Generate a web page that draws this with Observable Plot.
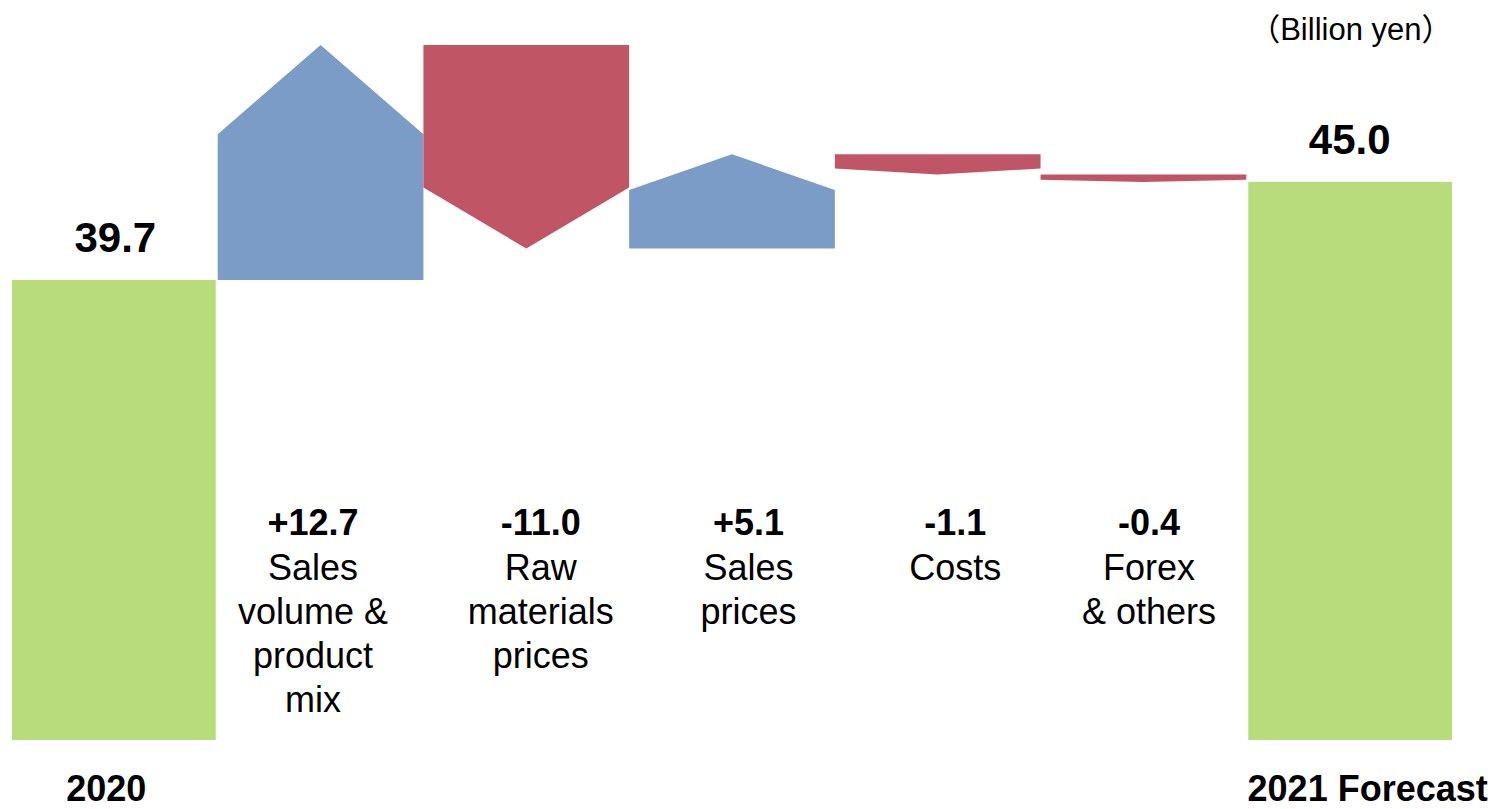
<!DOCTYPE html>
<html>
<head>
<meta charset="utf-8">
<script src="https://cdn.jsdelivr.net/npm/d3@7"></script>
<script src="https://cdn.jsdelivr.net/npm/@observablehq/plot@0.6"></script>
<style>
  html, body { margin: 0; padding: 0; background: #fff; }
  #chart svg { display: block; }
</style>
</head>
<body>
<div id="chart"></div>
<script>
// ---- Data ----
const categories = ["2020", "Sales\nvolume &\nproduct\nmix", "Raw\nmaterials\nprices", "Sales\nprices", "Costs", "Forex\n& others", "2021 Forecast"];
const startValue = 39.7;
const changes = [12.7, -11.0, 5.1, -1.1, -0.4];
const endValue = 45.0;
const valueLabels = ["39.7", "+12.7", "-11.0", "+5.1", "-1.1", "-0.4", "45.0"];
const unitLabel = "（Billion yen）";

// ---- Layout / style constants ----
const FONT = "'Liberation Sans', Arial, 'Noto Sans CJK JP', sans-serif";
const GREEN = "#b8dc7c", BLUE = "#7c9cc8", RED = "#c05566";
const labelDx = [-9, -8, 14, 16, 17, 5, 18];

// ---- Derived tables ----
const totals = [{k: 0, value: startValue, label: valueLabels[0]}, {k: 6, value: endValue, label: valueLabels[6]}];
const arrows = [];
let run = startValue;
changes.forEach((d, i) => {
  const k = i + 1;
  const s = run, e = run + d;
  const head = Math.abs(d) * (d > 0 ? 0.38 : 0.3);
  const shoulder = e - Math.sign(d) * head;
  const kind = d > 0 ? "up" : "down";
  arrows.push({k, x: k, y1: s, y2: shoulder, kind});
  arrows.push({k, x: k + 0.5, y1: s, y2: e, kind});
  arrows.push({k, x: k + 1, y1: s, y2: shoulder, kind});
  run = e;
});

const middleIdx = [1, 2, 3, 4, 5];
const marks = [
  Plot.rectY(totals.slice(0, 1), {x1: d => d.k, x2: d => d.k + 1, y1: 0, y2: "value", fill: GREEN, insetRight: 2, clip: true}),
  Plot.rectY(totals.slice(1), {x1: d => d.k, x2: d => d.k + 1, y1: 0, y2: "value", fill: GREEN, insetLeft: 2, clip: true}),
  Plot.areaY(arrows, {x: "x", y1: "y1", y2: "y2", z: "k", fill: d => d.kind === "up" ? BLUE : RED, curve: "linear"}),
  Plot.text(totals, {x: d => d.k + 0.5, y: "value", text: "label", lineAnchor: "bottom", dy: -28, fontSize: 42, fontWeight: "bold", fill: "#000"}),
  Plot.text([unitLabel], {frameAnchor: "top-right", textAnchor: "end", lineAnchor: "bottom", dy: -6, dx: 0, fontSize: 31, fill: "#000"})
];
middleIdx.forEach(k => {
  marks.push(Plot.text([k], {x: d => d + 0.5, frameAnchor: "top", lineAnchor: "top", dy: 464, dx: labelDx[k], text: d => valueLabels[d], fontSize: 36, fontWeight: "bold", fill: "#000"}));
  marks.push(Plot.text([k], {x: d => d + 0.5, frameAnchor: "top", lineAnchor: "top", dy: 503, dx: labelDx[k], text: d => categories[d], fontSize: 36, lineHeight: 44 / 36, fill: "#000"}));
});
[0, 6].forEach(k => {
  marks.push(Plot.text([k], {x: d => d + 0.5, frameAnchor: "bottom", lineAnchor: "top", dy: 35, dx: labelDx[k], text: d => categories[d], fontSize: 36, fontWeight: "bold", fill: "#000"}));
});

const chart = Plot.plot({
  width: 1496,
  height: 809,
  marginTop: 45,
  marginBottom: 69,
  marginLeft: 12,
  marginRight: 44,
  style: {fontFamily: FONT, background: "#fff", overflow: "visible"},
  x: {type: "linear", domain: [0, 7], axis: null},
  y: {domain: [14.84, 52.4], axis: null},
  marks
});
document.getElementById("chart").appendChild(chart);
</script>
</body>
</html>
